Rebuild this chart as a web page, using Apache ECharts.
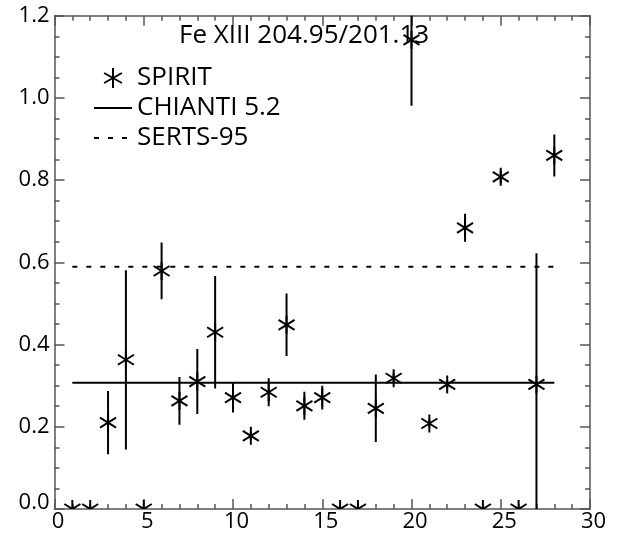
<!DOCTYPE html>
<html>
<head>
<meta charset="utf-8">
<script src="https://cdn.jsdelivr.net/npm/echarts@6/dist/echarts.min.js"></script>
<style>
  html, body { margin: 0; padding: 0; background: #fff; }
  #chart { width: 623px; height: 533px; }
</style>
</head>
<body>
<div id="chart"></div>
<script>
// Fe XIII 204.95/201.13 intensity ratio per observation
const positions = [1, 2, 3, 4, 5, 6, 7, 8, 9, 10, 11, 12, 13, 14, 15, 16, 17, 18, 19, 20, 21, 22, 23, 24, 25, 26, 27, 28];
const spiritRatio = [0, 0, 0.210, 0.363, 0, 0.579, 0.263, 0.310, 0.430, 0.271, 0.178, 0.284, 0.448, 0.251, 0.271, 0, 0, 0.245, 0.318, 1.141, 0.208, 0.303, 0.684, 0, 0.808, 0, 0.303, 0.860];
const spiritError = [0, 0, 0.077, 0.218, 0, 0.069, 0.058, 0.079, 0.137, 0.036, 0.010, 0.034, 0.076, 0.034, 0.029, 0, 0, 0.082, 0.012, 0.160, 0.010, 0.010, 0.034, 0, 0.015, 0, 0.319, 0.051];

// theoretical / reference ratios, drawn across the observation range
const modelRange = [1, 28];
const chiantiRatio = 0.307;
const sertsRatio = 0.589;

const xTicks = [0, 5, 10, 15, 20, 25, 30];
const yTicks = [0.0, 0.2, 0.4, 0.6, 0.8, 1.0, 1.2];

const titleText = 'Fe XIII 204.95/201.13';
const seriesNames = ['SPIRIT', 'CHIANTI 5.2', 'SERTS-95'];

const FONT = '"Open Sans", "Noto Sans", sans-serif';
const AXIS_COLOR = '#555';
const ASTERISK = 'path://M8 0L8 18M0 4.5L16 13.5M0 13.5L16 4.5';

const points = positions.map((x, i) => [x, spiritRatio[i], spiritError[i]]);
const hline = (v) => modelRange.map(x => [x, v]);

function renderSpirit(params, api) {
  const x = api.value(0), y = api.value(1), e = api.value(2);
  const c = api.coord([x, y]);
  const top = api.coord([x, y + e]);
  const bot = api.coord([x, y - e]);
  const stroke = { stroke: '#000', lineWidth: 2 };
  const children = [];
  if (e > 0) {
    children.push({ type: 'line', shape: { x1: c[0], y1: top[1], x2: c[0], y2: bot[1] }, style: stroke });
  }
  // asterisk: vertical stroke plus two diagonals
  children.push({ type: 'line', shape: { x1: c[0], y1: c[1] - 9, x2: c[0], y2: c[1] + 9 }, style: stroke });
  children.push({ type: 'line', shape: { x1: c[0] - 8, y1: c[1] - 5, x2: c[0] + 8, y2: c[1] + 5 }, style: stroke });
  children.push({ type: 'line', shape: { x1: c[0] - 8, y1: c[1] + 5, x2: c[0] + 8, y2: c[1] - 5 }, style: stroke });
  return { type: 'group', children };
}

function axisCommon(extra) {
  return Object.assign({
    type: 'value',
    axisLine: { show: true, onZero: false, lineStyle: { color: AXIS_COLOR, width: 1.5 } },
    axisTick: { show: true, inside: true, length: 10, lineStyle: { color: AXIS_COLOR, width: 1.5 } },
    splitLine: { show: false },
    minorSplitLine: { show: false }
  }, extra);
}

const minorX = { show: true, splitNumber: 5, length: 5, lineStyle: { color: AXIS_COLOR, width: 1.5 } };
const minorY = { show: true, splitNumber: 4, length: 5, lineStyle: { color: AXIS_COLOR, width: 1.5 } };
const hiddenSymbol = { color: 'transparent', borderColor: 'transparent', borderWidth: 0 };

const chart = echarts.init(document.getElementById('chart'), null, { renderer: 'canvas' });
chart.setOption({
  animation: false,
  backgroundColor: '#fff',
  title: {
    text: titleText,
    left: 174,
    top: 18,
    textStyle: { fontFamily: FONT, fontSize: 26, fontWeight: 'normal', color: '#000' }
  },
  legend: {
    orient: 'vertical',
    left: 88,
    top: 60,
    itemWidth: 38,
    itemHeight: 20,
    itemGap: 4,
    selectedMode: false,
    textStyle: { fontFamily: FONT, fontSize: 26, color: '#000', lineHeight: 22 },
    data: [
      { name: seriesNames[0], icon: ASTERISK, itemStyle: { color: 'transparent', borderColor: '#000', borderWidth: 2 } },
      { name: seriesNames[1], itemStyle: hiddenSymbol },
      { name: seriesNames[2], itemStyle: hiddenSymbol }
    ]
  },
  grid: { left: 54.5, right: 33, top: 15.7, bottom: 24, containLabel: false },
  xAxis: [
    axisCommon({
      min: xTicks[0], max: xTicks[xTicks.length - 1], interval: 5,
      minorTick: minorX,
      axisLabel: { fontFamily: FONT, fontSize: 22, color: '#000', margin: 2, padding: [0, 0, 0, 7] }
    }),
    axisCommon({
      position: 'top',
      min: xTicks[0], max: xTicks[xTicks.length - 1], interval: 5,
      minorTick: minorX,
      axisLabel: { show: false }
    })
  ],
  yAxis: [
    axisCommon({
      min: yTicks[0], max: yTicks[yTicks.length - 1], interval: 0.2,
      minorTick: minorY,
      axisLabel: {
        fontFamily: FONT, fontSize: 22, color: '#000', margin: 5,
        formatter: (v) => v === 0 ? '{z|0.0}' : v.toFixed(1),
        rich: { z: { fontFamily: FONT, fontSize: 22, color: '#000', padding: [0, 0, 12, 0] } }
      }
    }),
    axisCommon({
      position: 'right',
      min: yTicks[0], max: yTicks[yTicks.length - 1], interval: 0.2,
      minorTick: minorY,
      axisLabel: { show: false }
    })
  ],
  series: [
    {
      name: seriesNames[0],
      type: 'custom',
      xAxisIndex: 0, yAxisIndex: 0,
      clip: true,
      renderItem: renderSpirit,
      encode: { x: 0, y: 1 },
      data: points,
      z: 3
    },
    {
      name: seriesNames[1],
      type: 'line',
      xAxisIndex: 0, yAxisIndex: 0,
      symbol: 'none',
      data: hline(chiantiRatio),
      lineStyle: { color: '#000', width: 2 },
      itemStyle: { color: '#000' }
    },
    {
      name: seriesNames[2],
      type: 'line',
      xAxisIndex: 0, yAxisIndex: 0,
      symbol: 'none',
      data: hline(sertsRatio),
      lineStyle: { color: '#000', width: 2, type: [5, 9] },
      itemStyle: { color: '#000' }
    }
  ]
});
</script>
</body>
</html>
